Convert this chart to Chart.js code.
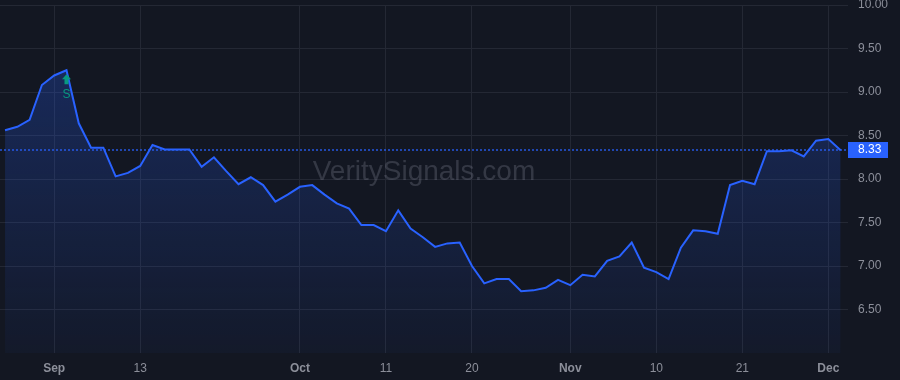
<!DOCTYPE html>
<html>
<head>
<meta charset="utf-8">
<script src="https://cdn.jsdelivr.net/npm/chart.js@4.4.0/dist/chart.umd.min.js"></script>
<style>
  html, body { margin: 0; padding: 0; background: #131722; }
  #wrap { width: 900px; height: 380px; }
</style>
</head>
<body>
<div id="wrap"><canvas id="mycanvas"></canvas></div>
<script>
// trading days, Aug 28 - Dec 4 2023
var dates = [
  '2023-08-28','2023-08-29','2023-08-30','2023-08-31',
  '2023-09-01','2023-09-05','2023-09-06','2023-09-07','2023-09-08',
  '2023-09-11','2023-09-12','2023-09-13','2023-09-14','2023-09-15',
  '2023-09-18','2023-09-19','2023-09-20','2023-09-21','2023-09-22',
  '2023-09-25','2023-09-26','2023-09-27','2023-09-28','2023-09-29',
  '2023-10-02','2023-10-03','2023-10-04','2023-10-05','2023-10-06',
  '2023-10-09','2023-10-10','2023-10-11','2023-10-12','2023-10-13',
  '2023-10-16','2023-10-17','2023-10-18','2023-10-19','2023-10-20',
  '2023-10-23','2023-10-24','2023-10-25','2023-10-26','2023-10-27',
  '2023-10-30','2023-10-31','2023-11-01','2023-11-02','2023-11-03',
  '2023-11-06','2023-11-07','2023-11-08','2023-11-09','2023-11-10',
  '2023-11-13','2023-11-14','2023-11-15','2023-11-16','2023-11-17',
  '2023-11-20','2023-11-21','2023-11-22','2023-11-24',
  '2023-11-27','2023-11-28','2023-11-29','2023-11-30','2023-12-01',
  '2023-12-04'
];
var closes = [
  8.56, 8.60, 8.68, 9.08,
  9.19, 9.25, 8.64, 8.36, 8.36,
  8.03, 8.07, 8.15, 8.39, 8.34,
  8.34, 8.34, 8.14, 8.25, 8.09,
  7.94, 8.02, 7.93, 7.74, 7.82,
  7.91, 7.93, 7.82, 7.72, 7.66,
  7.47, 7.47, 7.40, 7.64, 7.43,
  7.33, 7.22, 7.26, 7.27, 7.00,
  6.80, 6.85, 6.85, 6.71, 6.72,
  6.75, 6.84, 6.78, 6.90, 6.88,
  7.06, 7.11, 7.27, 6.98, 6.93,
  6.85, 7.21, 7.41, 7.40, 7.37,
  7.93, 7.98, 7.94, 8.32,
  8.32, 8.33, 8.26, 8.44, 8.46,
  8.33
];
var tickDates = ['2023-09-01','2023-09-13','2023-10-02','2023-10-11','2023-10-20','2023-11-01','2023-11-10','2023-11-21','2023-12-01'];
var tickLabels = ['Sep','13','Oct','11','20','Nov','10','21','Dec'];
var monthTicks = ['Sep','Oct','Nov','Dec'];
var signalDates = ['2023-09-05'];
var signalLabels = ['S'];

var lineColor = '#2962ff';
var textColor = '#8c8f9a';
var gridColor = '#242834';
var fontFam = '"Liberation Sans", Arial, sans-serif';

var points = [];
for (var i in closes) {
  points.push({x: Number(i), y: closes[i]});
}
var tickIdx = tickDates.map(function(d){ return dates.indexOf(d); });
var tickText = {};
tickIdx.forEach(function(v, k){ tickText[v] = tickLabels[k]; });

var extras = {
  id: 'extras',
  beforeDatasetsDraw: function(chart) {
    var ctx = chart.ctx, a = chart.chartArea;
    ctx.save();
    ctx.font = '28px ' + fontFam;
    ctx.fillStyle = 'rgba(130,134,148,0.3)';
    ctx.textAlign = 'center';
    ctx.textBaseline = 'middle';
    ctx.fillText('VeritySignals.com', 424, 172);
    ctx.restore();
  },
  afterDatasetsDraw: function(chart) {
    var ctx = chart.ctx, a = chart.chartArea;
    var xs = chart.scales.x, ys = chart.scales.y;
    var last = closes[closes.length - 1];
    var py = Math.round(ys.getPixelForValue(last));
    ctx.save();
    // last price line
    ctx.strokeStyle = lineColor;
    ctx.lineWidth = 1.3;
    ctx.setLineDash([2, 2]);
    ctx.beginPath();
    ctx.moveTo(a.left, py);
    ctx.lineTo(a.right, py);
    ctx.stroke();
    ctx.setLineDash([]);
    // price box
    ctx.fillStyle = lineColor;
    ctx.fillRect(a.right, py - 8, 40, 16);
    ctx.fillStyle = '#ffffff';
    ctx.font = '12px ' + fontFam;
    ctx.textAlign = 'left';
    ctx.textBaseline = 'middle';
    ctx.fillText(last.toFixed(2), a.right + 10, py);
    // signals
    signalDates.forEach(function(d, k) {
      var idx = dates.indexOf(d);
      var x = xs.getPixelForValue(idx);
      var y = ys.getPixelForValue(closes[idx]);
      ctx.fillStyle = '#089981';
      ctx.beginPath();
      ctx.moveTo(x, y + 4);
      ctx.lineTo(x + 4.5, y + 9);
      ctx.lineTo(x + 2, y + 9);
      ctx.lineTo(x + 2, y + 14);
      ctx.lineTo(x - 2, y + 14);
      ctx.lineTo(x - 2, y + 9);
      ctx.lineTo(x - 4.5, y + 9);
      ctx.closePath();
      ctx.fill();
      ctx.font = '12px ' + fontFam;
      ctx.textAlign = 'center';
      ctx.textBaseline = 'middle';
      ctx.fillText(signalLabels[k], x, y + 24);
    });
    ctx.restore();
  }
};

var ctx = document.getElementById('mycanvas');
var chart = new Chart(ctx, {
  type: 'line',
  data: {
    datasets: [{
      data: points,
      borderColor: lineColor,
      borderWidth: 2,
      pointRadius: 0,
      tension: 0,
      fill: 'start',
      backgroundColor: function(c) {
        var a = c.chart.chartArea;
        if (!a) return 'rgba(41,98,255,0.1)';
        var g = c.chart.ctx.createLinearGradient(0, a.top, 0, a.bottom);
        g.addColorStop(0, 'rgba(41,98,255,0.3)');
        g.addColorStop(1, 'rgba(41,98,255,0.04)');
        return g;
      }
    }]
  },
  plugins: [extras],
  options: {
    responsive: true,
    maintainAspectRatio: false,
    animation: false,
    layout: { padding: { top: 5, left: 0, right: 0, bottom: 0 } },
    plugins: { legend: { display: false }, tooltip: { enabled: false } },
    scales: {
      x: {
        type: 'linear',
        min: -0.41,
        max: 68.6,
        afterBuildTicks: function(s) {
          s.ticks = tickIdx.map(function(v){ return {value: v}; });
        },
        afterFit: function(s) {
          s.height = 27;
          s.paddingLeft = 0;
          s.paddingRight = 0;
        },
        border: { display: false },
        grid: { color: gridColor, drawTicks: false },
        ticks: {
          padding: 8,
          maxRotation: 0,
          autoSkip: false,
          color: textColor,
          font: function(c) {
            var lbl = c.tick ? tickText[c.tick.value] : '';
            return { family: fontFam, size: 12, weight: monthTicks.indexOf(lbl) >= 0 ? 'bold' : 'normal' };
          },
          callback: function(v) { return tickText[v] || ''; }
        }
      },
      y: {
        position: 'right',
        min: 6,
        max: 10,
        afterFit: function(s) {
          s.width = 52;
          s.paddingTop = 0;
          s.paddingBottom = 0;
        },
        border: { display: false },
        grid: {
          drawTicks: false,
          color: function(c) { return c.tick && c.tick.value === 6 ? 'rgba(0,0,0,0)' : gridColor; }
        },
        ticks: {
          stepSize: 0.5,
          padding: 10,
          color: textColor,
          font: { family: fontFam, size: 12 },
          callback: function(v) { return v === 6 ? '' : v.toFixed(2); }
        }
      }
    }
  }
});
</script>
</body>
</html>
